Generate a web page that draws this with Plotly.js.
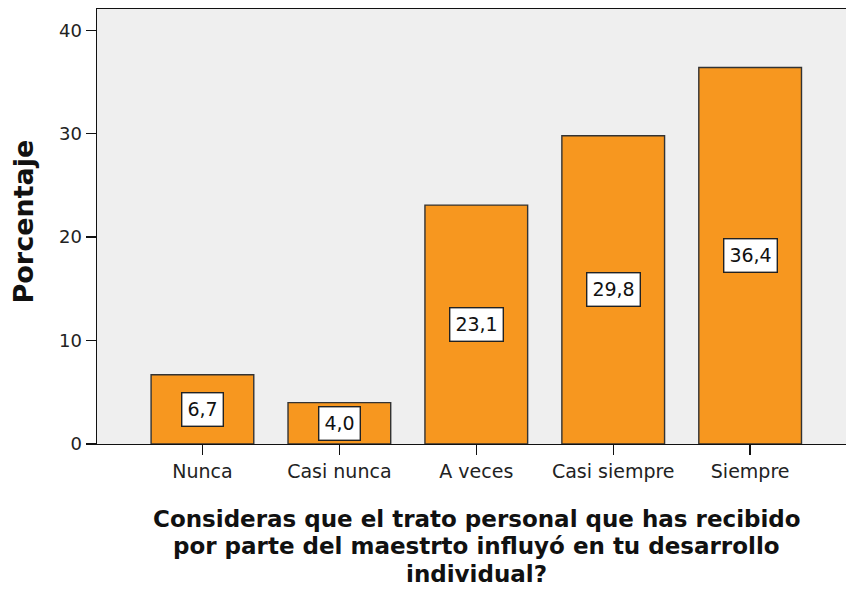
<!DOCTYPE html>
<html>
<head>
<meta charset="utf-8">
<script src="https://cdn.plot.ly/plotly-3.0.1.min.js"></script>
<style>html,body{margin:0;padding:0;background:#fff;}#chart{width:846px;height:589px;}</style>
</head>
<body>
<div id="chart"></div>
<script>
var categories = ["Nunca", "Casi nunca", "A veces", "Casi siempre", "Siempre"];
var percentages = [6.7, 4.0, 23.1, 29.8, 36.4];
var yTickValues = [0, 10, 20, 30, 40];
var yAxisTitle = "Porcentaje";
var xAxisTitleLines = [
  "Consideras que el trato personal que has recibido",
  "por parte del maestrto influyó en tu desarrollo",
  "individual?"
];

function fmt(v) { return v.toFixed(1).replace('.', ','); }

var FONT = 'DejaVu Sans, Verdana, sans-serif';

var trace = {
  type: 'bar',
  x: categories,
  y: percentages,
  width: 0.75,
  marker: { color: '#F7971F', line: { color: '#333333', width: 1.4 } },
  hoverinfo: 'none'
};

var annotations = percentages.map(function (v, i) {
  return {
    x: categories[i], y: v / 2, xref: 'x', yref: 'y',
    text: fmt(v), showarrow: false,
    font: { family: FONT, size: 19, color: '#111' },
    bgcolor: '#ffffff', bordercolor: '#222222', borderwidth: 1.4, borderpad: 5
  };
});

// x axis title: one annotation per line, tight spacing like the reference
var titleShifts = [-74.5, -102, -129.5];
xAxisTitleLines.forEach(function (line, i) {
  annotations.push({
    xref: 'paper', yref: 'paper', x: 0.507, y: 0,
    xanchor: 'center', yanchor: 'middle', yshift: titleShifts[i],
    text: line, showarrow: false, borderpad: 0,
    font: { family: FONT, size: 23, color: '#111', weight: 'bold' }
  });
});

// y axis title
annotations.push({
  xref: 'paper', yref: 'paper', x: 0, y: 0.5,
  xanchor: 'center', yanchor: 'middle', xshift: -74, yshift: 5,
  textangle: -90, text: yAxisTitle, showarrow: false,
  font: { family: FONT, size: 27, color: '#111', weight: 'bold' }
});

var layout = {
  width: 846, height: 589,
  margin: { l: 97, r: 0, t: 9, b: 145 },
  paper_bgcolor: '#ffffff',
  plot_bgcolor: '#EFEFEF',
  showlegend: false,
  xaxis: {
    type: 'category',
    range: [-0.77, 4.70],
    showline: true, linecolor: '#111', linewidth: 1.4, mirror: true,
    ticks: 'outside', ticklen: 10, tickcolor: '#111', tickwidth: 1.4,
    showgrid: false, zeroline: false,
    tickfont: { family: FONT, size: 19, color: '#222' }
  },
  yaxis: {
    range: [0, 42.06],
    tickvals: yTickValues,
    showline: true, linecolor: '#111', linewidth: 1.4,
    ticks: 'outside', ticklen: 10, tickcolor: '#111', tickwidth: 1.4,
    showgrid: false, zeroline: false,
    tickfont: { family: FONT, size: 18, color: '#222' }
  },
  annotations: annotations
};

Plotly.newPlot('chart', [trace], layout, { displayModeBar: false, staticPlot: true });
</script>
</body>
</html>
